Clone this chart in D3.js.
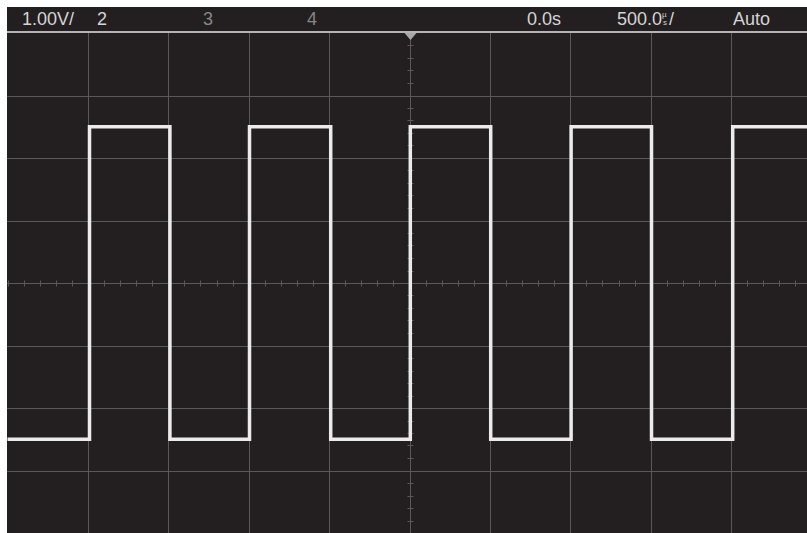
<!DOCTYPE html>
<html>
<head>
<meta charset="utf-8">
<script src="https://cdn.jsdelivr.net/npm/d3@7"></script>
<style>
    body { margin: 0; background: #fff; }
    text { font-family: "Liberation Sans", Arial, sans-serif; }
</style>
</head>
<body>
<div id="scope"></div>
<script>
// trace corners: time (µs) and voltage (V)
const traceTime = [-2500, -1990, -1990, -1490, -1490, -995, -995, -490, -490, 5, 5, 505, 505, 1005, 1005, 1505, 1505, 2010, 2010, 2600];
const traceVolt = [-2.5, -2.5, 2.5, 2.5, -2.5, -2.5, 2.5, 2.5, -2.5, -2.5, 2.5, 2.5, -2.5, -2.5, 2.5, 2.5, -2.5, -2.5, 2.5, 2.5];

// header labels
const headerLabels = [
    {text: "1.00V/", x: 22, color: "#d4d4d4"},
    {text: "2", x: 97, color: "#d4d4d4"},
    {text: "3", x: 203, color: "#868686"},
    {text: "4", x: 307, color: "#868686"},
    {text: "0.0s", x: 527, color: "#d4d4d4"},
    {text: "Auto", x: 733, color: "#d4d4d4"}
];
const timebase = "500.0";

const W = 807, H = 533;
const padLeft = 7, padTop = 7;
const plotTop = 33, plotBottom = 533;
const divW = 80.4;

const svg = d3.select("#scope").append("svg")
    .attr("width", W)
    .attr("height", H);

svg.append("rect")
    .attr("x", padLeft).attr("y", padTop)
    .attr("width", W - padLeft).attr("height", H - padTop)
    .attr("fill", "#231f20");

// scales: 10 horizontal divisions of 500 µs, 8 vertical divisions of 1 V
const x = d3.scaleLinear()
    .domain([-2500, 2500])
    .range([409.5 - 5 * divW, 409.5 + 5 * divW]);

const y = d3.scaleLinear()
    .domain([-4, 4])
    .range([plotBottom, plotTop]);

const grid = svg.append("g").attr("stroke", "#5b5859").attr("stroke-width", 1);

grid.selectAll(".vg")
    .data(d3.range(-2000, 2001, 500))
    .enter().append("line")
    .attr("class", "vg")
    .attr("x1", d => Math.round(x(d)) + 0.5).attr("x2", d => Math.round(x(d)) + 0.5)
    .attr("y1", plotTop).attr("y2", plotBottom);

grid.selectAll(".hg")
    .data(d3.range(-3, 4, 1))
    .enter().append("line")
    .attr("class", "hg")
    .attr("y1", d => Math.round(y(d)) + 0.5).attr("y2", d => Math.round(y(d)) + 0.5)
    .attr("x1", padLeft).attr("x2", W);

// minor ticks on the centre cross
const cx = Math.round(x(0)) + 0.5, cy = Math.round(y(0)) + 0.5;
grid.selectAll(".mx")
    .data(d3.range(-2500, 2501, 100))
    .enter().append("line")
    .attr("class", "mx")
    .attr("x1", d => Math.round(x(d)) + 0.5).attr("x2", d => Math.round(x(d)) + 0.5)
    .attr("y1", cy - 3).attr("y2", cy + 3);

grid.selectAll(".my")
    .data(d3.range(-4, 4.01, 0.2))
    .enter().append("line")
    .attr("class", "my")
    .attr("y1", d => Math.round(y(d)) + 0.5).attr("y2", d => Math.round(y(d)) + 0.5)
    .attr("x1", cx - 3).attr("x2", cx + 3);

// header
svg.append("line")
    .attr("x1", padLeft).attr("x2", W)
    .attr("y1", 32).attr("y2", 32)
    .attr("stroke", "#b4b4b4").attr("stroke-width", 2);

svg.selectAll(".hdr")
    .data(headerLabels)
    .enter().append("text")
    .attr("class", "hdr")
    .attr("x", d => d.x).attr("y", 25)
    .attr("font-size", 18)
    .attr("fill", d => d.color)
    .text(d => d.text);

// timebase with a stacked µ over s
const tb = svg.append("text")
    .attr("x", 617).attr("y", 25)
    .attr("font-size", 18).attr("fill", "#d4d4d4");
tb.append("tspan").text(timebase);
tb.append("tspan").attr("font-size", 8).attr("dy", -8).text("µ");
tb.append("tspan").attr("font-size", 8).attr("x", 663).attr("dy", 8).text("s");
tb.append("tspan").attr("x", 669).text("/");

// trigger marker
svg.append("path")
    .attr("d", `M${cx - 6},33 L${cx + 6},33 L${cx},40 Z`)
    .attr("fill", "#a8a8a8");

// trace
const points = traceTime.map((t, i) => [t, traceVolt[i]]);
const line = d3.line()
    .x(d => x(d[0]))
    .y(d => y(d[1]));

svg.append("defs").append("clipPath").attr("id", "clip")
    .append("rect").attr("x", padLeft).attr("y", plotTop)
    .attr("width", W - padLeft).attr("height", plotBottom - plotTop);

svg.append("path")
    .datum(points)
    .attr("clip-path", "url(#clip)")
    .attr("d", line)
    .attr("fill", "none")
    .attr("stroke", "#ebebeb")
    .attr("stroke-width", 3.5)
    .attr("stroke-linejoin", "miter");
</script>
</body>
</html>
